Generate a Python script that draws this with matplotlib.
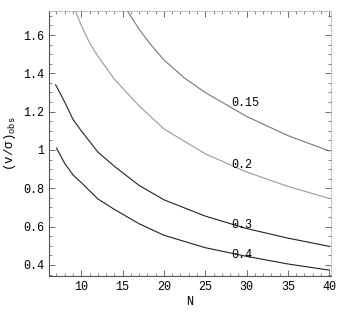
import numpy as np
import matplotlib
matplotlib.use("Agg")
import matplotlib.pyplot as plt
from matplotlib.ticker import MultipleLocator, FuncFormatter

plt.rcParams['font.family'] = ['Liberation Mono', 'DejaVu Sans Mono']
plt.rcParams['mathtext.fontset'] = 'custom'
plt.rcParams['mathtext.rm'] = 'Liberation Mono'
plt.rcParams['mathtext.it'] = 'Liberation Mono'

# Curvas (N, v/sigma)
n_04 = [7, 8, 9, 10, 12, 14, 17, 20, 25, 30, 35, 40]
v_04 = [1.01, 0.93, 0.87, 0.83, 0.745, 0.69, 0.615, 0.555, 0.49, 0.445, 0.405, 0.373]

n_03 = [6.9, 8, 9, 10, 12, 14, 17, 20, 25, 30, 35, 40]
v_03 = [1.34, 1.25, 1.16, 1.10, 0.99, 0.915, 0.815, 0.74, 0.655, 0.59, 0.54, 0.497]

n_02 = [9.3, 10, 11, 12, 14, 17, 20, 25, 30, 35, 40]
v_02 = [1.725, 1.65, 1.56, 1.49, 1.37, 1.23, 1.11, 0.98, 0.885, 0.81, 0.747]

n_015 = [15.6, 17, 18.5, 20, 22.5, 25, 30, 35, 40]
v_015 = [1.725, 1.63, 1.545, 1.47, 1.375, 1.30, 1.175, 1.075, 0.995]

etiquetas = ['0.15', '0.2', '0.3', '0.4']
pos_etiquetas = [1.245, 0.92, 0.61, 0.45]

fig = plt.figure(figsize=(3.38, 3.16), dpi=100)
ax = fig.add_axes([0.145, 0.127, 0.834, 0.838])

ax.plot(n_015, v_015, color='#777777', lw=0.8)
ax.plot(n_02, v_02, color='#999999', lw=0.8)
ax.plot(n_03, v_03, color='#222222', lw=0.8)
ax.plot(n_04, v_04, color='#222222', lw=0.8)

for et, yy in zip(etiquetas, pos_etiquetas):
    ax.text(28.2, yy, et, fontsize=8.5, ha='left', va='center')

ax.set_xlim(6.1, 40.2)
ax.set_ylim(0.343, 1.725)
ax.xaxis.set_major_locator(MultipleLocator(5))
ax.xaxis.set_minor_locator(MultipleLocator(1))
ax.yaxis.set_major_locator(MultipleLocator(0.2))
ax.yaxis.set_minor_locator(MultipleLocator(0.05))
ax.yaxis.set_major_formatter(FuncFormatter(lambda v, p: '%g' % round(v, 2)))
ax.tick_params(which='both', direction='in', top=True, right=True,
               labelsize=8.5, color='#555555')
ax.tick_params(which='major', length=4, width=0.6)
ax.tick_params(which='minor', length=2, width=0.5)

for lado in ['left', 'bottom']:
    ax.spines[lado].set_color('#555555')
    ax.spines[lado].set_linewidth(0.8)
for lado in ['top', 'right']:
    ax.spines[lado].set_color('#999999')
    ax.spines[lado].set_linewidth(0.6)
    ax.spines[lado].set_linestyle((0, (1, 2)))

ax.set_xlabel('N', fontsize=8.5, labelpad=2)
ax.set_ylabel(r'$(v/\sigma)_{\rm obs}$', fontsize=9, labelpad=4)

fig.savefig('out.png', dpi=100)
